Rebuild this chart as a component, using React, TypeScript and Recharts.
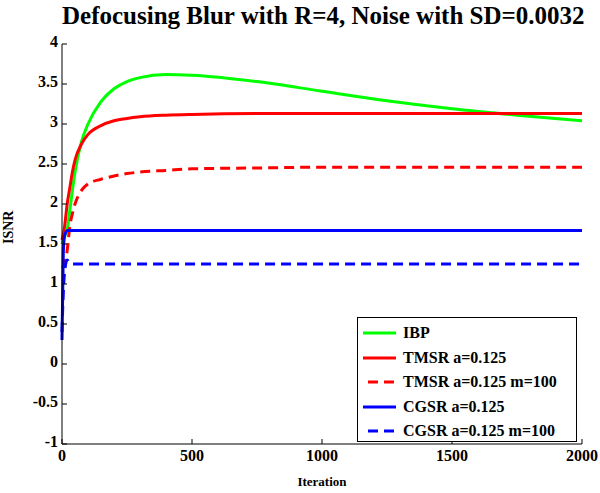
import { LineChart, Line, XAxis, YAxis, Legend } from "recharts"

// iterations sampled along the curves
const iterations = [0, 5, 10, 20, 30, 40, 50, 75, 100, 150, 200, 250, 300, 400, 500, 750, 1000, 1250, 1500, 1750, 2000]

const ibp = [1.5, 1.55, 1.6, 1.68, 1.92, 2.17, 2.4, 2.78, 3.0, 3.28, 3.44, 3.53, 3.58, 3.62, 3.61, 3.53, 3.41, 3.29, 3.19, 3.11, 3.04]
const tmsr = [1.55, 1.62, 1.72, 2.0, 2.2, 2.4, 2.55, 2.75, 2.87, 2.98, 3.04, 3.07, 3.09, 3.11, 3.12, 3.13, 3.13, 3.13, 3.13, 3.13, 3.13]
const tmsrM100 = [1.2, 1.22, 1.25, 1.42, 1.72, 1.88, 2.0, 2.17, 2.25, 2.31, 2.35, 2.38, 2.4, 2.42, 2.44, 2.45, 2.46, 2.46, 2.46, 2.46, 2.46]
const cgsr = [0.3, 1.4, 1.6, 1.67, 1.67, 1.67, 1.67, 1.67, 1.67, 1.67, 1.67, 1.67, 1.67, 1.67, 1.67, 1.67, 1.67, 1.67, 1.67, 1.67, 1.67]
const cgsrM100 = [0.4, 0.9, 1.15, 1.3, 1.26, 1.25, 1.25, 1.25, 1.25, 1.25, 1.25, 1.25, 1.25, 1.25, 1.25, 1.25, 1.25, 1.25, 1.25, 1.25, 1.25]

const xTicks = [0, 500, 1000, 1500, 2000]
const yTicks = [-1, -0.5, 0, 0.5, 1, 1.5, 2, 2.5, 3, 3.5, 4]

const series = [
  { key: "ibp", name: "IBP", color: "#00ff00", dashed: false },
  { key: "tmsr", name: "TMSR a=0.125", color: "#ff0000", dashed: false },
  { key: "tmsrM100", name: "TMSR a=0.125 m=100", color: "#ff0000", dashed: true },
  { key: "cgsr", name: "CGSR a=0.125", color: "#0000ff", dashed: false },
  { key: "cgsrM100", name: "CGSR a=0.125 m=100", color: "#0000ff", dashed: true },
]

const data = iterations.map((it, i) => ({
  it,
  ibp: ibp[i],
  tmsr: tmsr[i],
  tmsrM100: tmsrM100[i],
  cgsr: cgsr[i],
  cgsrM100: cgsrM100[i],
}))

const font = "'Liberation Serif', 'Times New Roman', serif"

function YTick(props: any) {
  const { x, y, payload } = props
  return (
    <g>
      <line x1={x} y1={y} x2={x + 5} y2={y} stroke="#000" strokeWidth={1} />
      <text x={x - 4} y={y} dy={3} textAnchor="end" fontFamily={font} fontWeight="bold" fontSize={16} fill="#000">
        {payload.value}
      </text>
    </g>
  )
}

function XTick(props: any) {
  const { x, y, payload } = props
  return (
    <g>
      <line x1={x} y1={y} x2={x} y2={y - 5} stroke="#000" strokeWidth={1} />
      <text x={x} y={y + 17} textAnchor="middle" fontFamily={font} fontWeight="bold" fontSize={16} fill="#000">
        {payload.value}
      </text>
    </g>
  )
}

function LegendBox() {
  return (
    <div
      style={{
        width: 220,
        height: 125,
        border: "1px solid #000",
        background: "#fff",
        boxSizing: "border-box",
        fontFamily: font,
        fontWeight: "bold",
        fontSize: 16,
        paddingTop: 3,
      }}
    >
      {series.map((s) => (
        <div key={s.key} style={{ display: "flex", alignItems: "center", height: 24.5 }}>
          <svg width={40} height={10} style={{ marginLeft: 5 }}>
            <line
              x1={s.dashed ? 5 : 0}
              y1={5}
              x2={33}
              y2={5}
              stroke={s.color}
              strokeWidth={3}
              strokeDasharray={s.dashed ? "10 6" : undefined}
            />
          </svg>
          <span>{s.name}</span>
        </div>
      ))}
    </div>
  )
}

export default function App() {
  return (
    <div style={{ position: "absolute", left: 0, top: 0, width: 600, height: 493, background: "#fff" }}>
      <div
        style={{
          position: "absolute",
          left: 62,
          width: 520,
          top: 2,
          textAlign: "center",
          fontFamily: font,
          fontWeight: "bold",
          fontSize: 25,
          whiteSpace: "nowrap",
        }}
      >
        Defocusing Blur with R=4, Noise with SD=0.0032
      </div>
      <LineChart width={600} height={493} data={data} margin={{ top: 44, right: 18, bottom: 19, left: 22 }}>
        <XAxis
          dataKey="it"
          type="number"
          domain={[0, 2000]}
          ticks={xTicks}
          tick={<XTick />}
          tickLine={false}
          tickSize={0}
          tickMargin={0}
          height={30}
          axisLine={{ stroke: "#000" }}
          label={{ value: "Iteration", position: "insideBottom", offset: -12, fontFamily: font, fontWeight: "bold", fontSize: 13, fill: "#000" }}
        />
        <YAxis
          type="number"
          domain={[-1, 4]}
          ticks={yTicks}
          tick={<YTick />}
          tickLine={false}
          tickSize={0}
          tickMargin={0}
          width={40}
          axisLine={{ stroke: "#000" }}
          interval={0}
          label={{ value: "ISNR", angle: -90, position: "insideLeft", offset: -14, fontFamily: font, fontWeight: "bold", fontSize: 14, fill: "#000" }}
        />
        <Legend
          layout="vertical"
          align="center"
          verticalAlign="middle"
          wrapperStyle={{ left: 357, top: 317, width: 220 }}
          content={<LegendBox />}
        />
        {series.map((s) => (
          <Line
            key={s.key}
            dataKey={s.key}
            name={s.name}
            type="monotone"
            stroke={s.color}
            strokeWidth={3}
            strokeDasharray={s.dashed ? "10 6" : undefined}
            dot={false}
            isAnimationActive={false}
          />
        ))}
      </LineChart>
    </div>
  )
}
